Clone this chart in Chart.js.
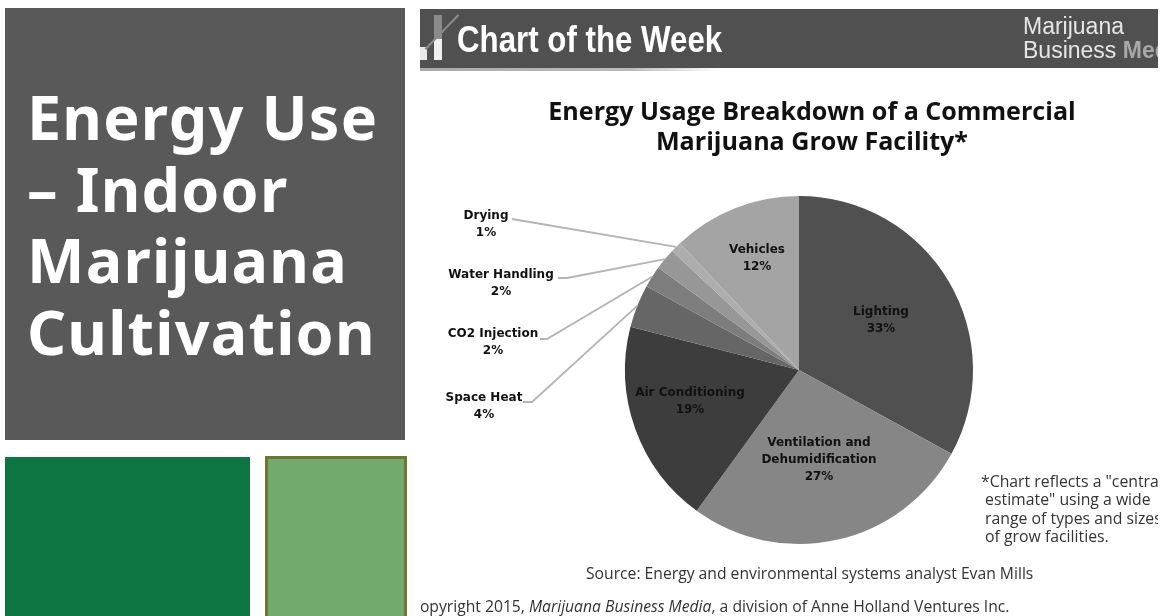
<!DOCTYPE html>
<html><head><meta charset="utf-8">
<script src="https://cdn.jsdelivr.net/npm/chart.js@4"></script>
<style>
html,body{margin:0;padding:0;background:#fff;overflow:hidden}
#stage{position:relative;width:1166px;height:616px;overflow:hidden;filter:blur(.55px)}
#stage div{position:absolute;white-space:nowrap}
#panel{left:5px;top:8px;width:400px;height:432px;background:#595959}
#big{left:27px;top:81px;font:700 61px/71.5px "Noto Sans",sans-serif;color:#fff;letter-spacing:1.2px}
#g1{left:5px;top:457px;width:245px;height:159px;background:#0c7542}
#g2{left:265px;top:456px;width:136px;height:160px;background:#70ab6d;border:3px solid #6f7435}
#shot{left:420px;top:0;width:738px;height:616px;overflow:hidden}
#hdr{left:0;top:9px;width:738px;height:59px;background:#505050}
#shadow{left:0;top:68px;width:300px;height:3px;background:linear-gradient(90deg,#aaa,#bbb 70%,#fff)}
#cotw{left:37px;top:18px;font:700 37px/44px "Liberation Sans",sans-serif;color:#fff;transform:scaleX(.845);transform-origin:0 0}
#mj{left:603px;top:14px;font:400 23px/24px "Liberation Sans",sans-serif;color:#e6e6e6}
#mj span{color:#a8a8a8;font-weight:700}
.src{font:400 15.7px/17px "Open Sans",sans-serif;color:#333}
#note{left:561px;top:472px;font:400 15.8px/18.3px "Open Sans",sans-serif;color:#333}
canvas{position:absolute;left:0;top:0}
</style></head>
<body><div id="stage">
<div id="panel"></div>
<div id="big">Energy Use<br>– Indoor<br>Marijuana<br>Cultivation</div>
<div id="g1"></div><div id="g2"></div>
<div id="shot">
<div id="hdr"></div><div id="shadow"></div>
<div style="left:0;top:47px;width:7px;height:13px;background:#e8e8e8"></div>
<div style="left:14px;top:15px;width:8px;height:24px;background:#8a8a8a"></div>
<div style="left:14px;top:39px;width:8px;height:21px;background:#f0f0f0"></div>
<div style="left:-2px;top:31px;width:48px;height:2px;background:#8a8a8a;transform:rotate(-46deg)"></div>
<div id="cotw">Chart of the Week</div>
<div id="mj">Marijuana<br>Business <span>Media</span></div>
<div class="src" style="left:166px;top:565px">Source: Energy and environmental systems analyst Evan Mills</div>
<div class="src" style="left:-10px;top:598px">Copyright 2015, <i>Marijuana Business Media</i>, a division of Anne Holland Ventures Inc.</div>
<div id="note">*Chart reflects a "central<br>&nbsp;estimate" using a wide<br>&nbsp;range of types and sizes<br>&nbsp;of grow facilities.</div>
</div>
<canvas id="c" width="1166" height="616"></canvas>
</div>
<script>
const categories = ["Lighting","Ventilation and Dehumidification","Air Conditioning","Space Heat","CO2 Injection","Water Handling","Drying","Vehicles"];
const shares = [33,27,19,4,2,2,1,12];
const sliceColors = ["#505050","#868686","#3d3d3d","#666666","#7d7d7d","#979797","#adadad","#a4a4a4"];
const titleLines = ["Energy Usage Breakdown of a Commercial","Marijuana Grow Facility*"];

// label layout: centre x, first line y, wrapped name lines; optional leader anchor
const labelLayout = [
  {x:881,y:312,lines:["Lighting"]},
  {x:819,y:443,lines:["Ventilation and","Dehumidification"]},
  {x:690,y:393,lines:["Air Conditioning"]},
  {x:484,y:398,lines:["Space Heat"],leader:[[523,402],[532,402]]},
  {x:493,y:334,lines:["CO2 Injection"],leader:[[540,339],[547,339]]},
  {x:501,y:275,lines:["Water Handling"],leader:[[558,278],[567,278]]},
  {x:486,y:216,lines:["Drying"],leader:[[512,219]]},
  {x:757,y:250,lines:["Vehicles"]}
];

const annotate = {
  id:"annotate",
  afterDraw(chart){
    const ctx = chart.ctx, arcs = chart.getDatasetMeta(0).data;
    ctx.save();
    ctx.textAlign = "center"; ctx.textBaseline = "middle";
    ctx.fillStyle = "#111";
    ctx.font = '700 25.1px "Open Sans",sans-serif';
    titleLines.forEach((t,i)=>ctx.fillText(t,812,113+i*30));
    arcs.forEach((a,i)=>{
      const L = labelLayout[i];
      if(L.leader){
        const mid=(a.startAngle+a.endAngle)/2;
        ctx.beginPath();
        L.leader.forEach((p,k)=>k?ctx.lineTo(p[0],p[1]):ctx.moveTo(p[0],p[1]));
        ctx.lineTo(a.x+Math.cos(mid)*a.outerRadius,a.y+Math.sin(mid)*a.outerRadius);
        ctx.strokeStyle="#b4b4b4"; ctx.lineWidth=1.8; ctx.stroke();
      }
      ctx.fillStyle="#111";
      ctx.font='700 12px "DejaVu Sans",sans-serif';
      const rows=[...L.lines,shares[i]+"%"];
      rows.forEach((r,k)=>ctx.fillText(r,L.x,L.y+k*16.8));
    });
    ctx.restore();
  }
};

new Chart(document.getElementById("c"),{
  type:"pie",
  data:{labels:categories,datasets:[{data:shares,backgroundColor:sliceColors,borderWidth:0}]},
  options:{
    responsive:false,animation:false,
    layout:{padding:{left:625,right:193,top:196,bottom:72}},
    plugins:{legend:{display:false},tooltip:{enabled:false}}
  },
  plugins:[annotate]
});
</script>
</body></html>
